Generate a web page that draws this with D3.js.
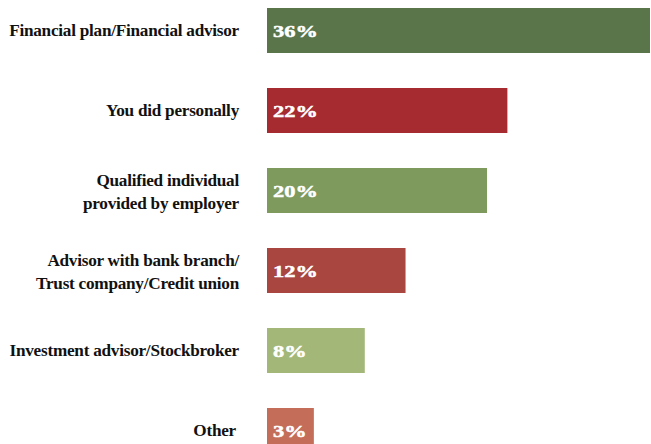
<!DOCTYPE html>
<html>
<head>
<meta charset="utf-8">
<script src="https://cdn.jsdelivr.net/npm/d3@7"></script>
<style>
  html, body { margin: 0; padding: 0; background: #fff; }
  svg { display: block; }
</style>
</head>
<body>
<div id="chart"></div>
<script>
// Where people got their financial plan / advice, share of respondents
const categories = [
  ["Financial plan/Financial advisor"],
  ["You did personally"],
  ["Qualified individual", "provided by employer"],
  ["Advisor with bank branch/", "Trust company/Credit union"],
  ["Investment advisor/Stockbroker"],
  ["Other"]
];
const values = [36, 22, 20, 12, 8, 3];
const valueLabels = ["36%", "22%", "20%", "12%", "8%", "3%"];
const colors = ["#5a754a", "#a62b31", "#7f9a5d", "#a8463f", "#a3b878", "#c46e5a"];

const width = 651, height = 444;
const barLeft = 267;

const svg = d3.select("#chart").append("svg")
  .attr("width", width)
  .attr("height", height);

const y = d3.scaleBand()
  .domain(d3.range(values.length))
  .range([0, 461])
  .paddingInner(0.4375)
  .paddingOuter(0.1);

const x = d3.scaleLinear()
  .domain([-1.6, 36])
  .range([barLeft, 650]);

const rows = svg.selectAll("g.row")
  .data(values)
  .join("g")
  .attr("class", "row")
  .attr("transform", (d, i) => `translate(0,${y(i)})`);

rows.append("rect")
  .attr("x", x(-1.6))
  .attr("y", 0)
  .attr("width", d => x(d) - x(-1.6))
  .attr("height", y.bandwidth())
  .attr("fill", (d, i) => colors[i]);

// value labels inside the bars
rows.append("text")
  .attr("transform", `translate(${barLeft + 6},${y.bandwidth() / 2 + 6.5}) scale(1.28,1)`)
  .attr("fill", "#fff")
  .attr("stroke", "#fff")
  .attr("stroke-width", 0.5)
  .attr("font-family", "'Liberation Serif', 'DejaVu Serif', serif")
  .attr("font-weight", "bold")
  .attr("font-size", 17.5)
  .text((d, i) => valueLabels[i]);

// category labels, right aligned left of the bars
const lab = rows.append("text")
  .attr("text-anchor", "end")
  .attr("fill", "#111")
  .attr("font-family", "'Liberation Serif', 'DejaVu Serif', serif")
  .attr("font-weight", "bold")
  .attr("font-size", 17.2)
  .attr("letter-spacing", -0.25);

lab.each(function(d, i) {
  const lines = categories[i];
  const t = d3.select(this);
  const mid = y.bandwidth() / 2;
  const start = lines.length === 1 ? mid + 5 : mid - 4.5;
  const right = i === values.length - 1 ? 236 : 239;
  lines.forEach((ln, k) => {
    t.append("tspan")
      .attr("x", right)
      .attr("y", start + k * 23)
      .text(ln);
  });
});
</script>
</body>
</html>
